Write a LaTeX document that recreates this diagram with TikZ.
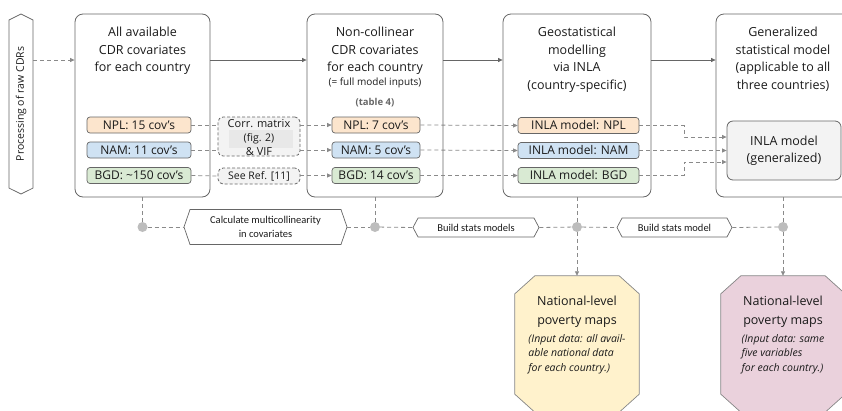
\documentclass[tikz,border=0pt]{standalone}
\usepackage{fontspec}
\setmainfont{Open Sans}
\newfontfamily\hexfont{Carlito}
\usetikzlibrary{arrows.meta,shapes.symbols,calc}

\definecolor{edge}{HTML}{666666}
\definecolor{dashc}{HTML}{8A8A8A}
\definecolor{nplc}{HTML}{FCE5CD}
\definecolor{namc}{HTML}{CFE2F3}
\definecolor{bgdc}{HTML}{D9EAD3}
\definecolor{lgray}{HTML}{F3F3F3}
\definecolor{mgray}{HTML}{E8E8E8}
\definecolor{dotc}{HTML}{BDBDBD}
\definecolor{yelc}{HTML}{FFF2CC}
\definecolor{pinkc}{HTML}{EAD1DC}
\definecolor{txt}{HTML}{1A1A1A}

\tikzset{
  bigbox/.style={draw=edge, line width=0.8pt, rounded corners=8pt, minimum height=183pt, inner sep=0pt},
  titletext/.style={align=center, font=\fontsize{12.5}{17.5}\selectfont, text=txt, anchor=north, inner sep=0pt},
  covbox/.style={draw=edge, line width=0.7pt, rounded corners=3pt, minimum height=16pt, inner sep=0pt, font=\fontsize{12}{14}\selectfont, text=txt},
  dashbox/.style={draw=edge, dash pattern=on 3pt off 2pt, line width=0.8pt, rounded corners=5pt, fill=lgray, inner sep=0pt},
  hexbox/.style={draw=edge, line width=0.7pt, signal, signal to=west and east, inner sep=0pt, align=center, font=\hexfont\fontsize{10.5}{14}\selectfont, text=txt},
  solidarrow/.style={draw=edge, line width=0.7pt, -{Triangle[length=4.5pt,width=4pt]}},
  dline/.style={draw=dashc, line width=0.8pt, dash pattern=on 4pt off 3pt},
  darrow/.style={dline, -{Triangle[length=4.5pt,width=4pt]}},
  dot/.style={circle, fill=dotc, minimum size=10pt, inner sep=0pt},
  octtext/.style={align=center, text=txt, inner sep=0pt}
}

\begin{document}
\begin{tikzpicture}[x=1pt,y=-1pt]
\useasboundingbox (0,0) rectangle (842,410);
\clip (0,0) rectangle (842,410);

% Processing shape
\node[draw=edge, line width=0.7pt, signal, signal to=west and east, signal pointer angle=127,
      rotate=90, minimum width=180pt, minimum height=24pt, inner sep=0pt,
      font=\fontsize{10.5}{12}\selectfont, text=txt] (proc) at (21,104) {Processing of raw CDRs};

% Big boxes
\node[bigbox, minimum width=135pt] (box1) at (142.5,105.5) {};
\node[bigbox, minimum width=136pt] (box2) at (375,105.5) {};
\node[bigbox, minimum width=148pt] (box3) at (577,105.5) {};
\node[bigbox, minimum width=134pt] (box4) at (783,105.5) {};

\node[titletext] (t1) at (142.5,27) {All available\\CDR covariates\\for each country};
\node[titletext] (t2) at (375,27) {Non-collinear\\CDR covariates\\for each country};
\node[inner sep=0pt, font=\fontsize{10}{11}\selectfont, text=txt] (t2b) at (375,83) {(= full model inputs)};
\node[inner sep=0pt, font=\bfseries\fontsize{9.5}{10}\selectfont, text=black!60] (t2c) at (375,103) {(table 4)};
\node[titletext] (t3) at (577,27) {Geostatistical\\modelling\\via INLA\\(country-specific)};
\node[titletext] (t4) at (783,27) {Generalized\\statistical model\\(applicable to all\\three countries)};

% Column 1 boxes
\node[covbox, fill=nplc, minimum width=104pt] (c1npl) at (139,125) {NPL: 15 cov's};
\node[covbox, fill=namc, minimum width=104pt] (c1nam) at (139,150) {NAM: 11 cov's};
\node[covbox, fill=bgdc, minimum width=104pt] (c1bgd) at (139,175.5) {BGD: \textasciitilde150 cov's};

% Dashed method boxes
\node[dashbox, minimum width=82pt, minimum height=39pt] (corr) at (259,136.5) {};
\node[fill=mgray, minimum width=64pt, minimum height=18pt, inner sep=0pt] (corrbg) at (261,139) {};
\node[inner sep=0pt, font=\fontsize{11}{13}\selectfont, text=txt] (corrA) at (259,123.5) {Corr. matrix};
\node[inner sep=0pt, font=\fontsize{10.5}{12}\selectfont, text=txt] (corrB) at (259,138.5) {(fig. 2)};
\node[inner sep=0pt, font=\fontsize{11}{13}\selectfont, text=txt] (corrC) at (259,151.5) {\& VIF};
\node[dashbox, minimum width=82pt, minimum height=16pt, font=\fontsize{10.5}{12}\selectfont, text=txt] (seeref) at (259,176) {See Ref. [11]};

% Column 2 boxes
\node[covbox, fill=nplc, minimum width=88pt] (c2npl) at (376,125) {NPL: 7 cov's};
\node[covbox, fill=namc, minimum width=88pt] (c2nam) at (376,150) {NAM: 5 cov's};
\node[covbox, fill=bgdc, minimum width=88pt] (c2bgd) at (376,175.5) {BGD: 14 cov's};

% Column 3 boxes
\node[covbox, fill=nplc, minimum width=121pt] (c3npl) at (578.5,125.5) {INLA model: NPL};
\node[covbox, fill=namc, minimum width=121pt] (c3nam) at (578.5,150.5) {INLA model: NAM};
\node[covbox, fill=bgdc, minimum width=121pt] (c3bgd) at (578.5,175.5) {INLA model: BGD};

% Generalized INLA
\node[draw=edge, line width=0.8pt, rounded corners=6pt, fill=lgray, minimum width=114pt, minimum height=59pt,
      align=center, inner sep=0pt, font=\fontsize{12.5}{17.5}\selectfont, text=txt] (gen) at (784,150.5) {INLA model\\(generalized)};

% Top solid arrows
\coordinate (r60) at (0,60);
\draw[solidarrow] (box1.east |- r60) -- (box2.west |- r60);
\draw[solidarrow] (box2.east |- r60) -- (box3.west |- r60);
\draw[solidarrow] (box3.east |- r60) -- (box4.west |- r60);
\draw[darrow] (proc.south |- r60) -- (box1.west |- r60);

% Dashed connections
\draw[dline] (c1npl.east) -- (corr.west |- c1npl);
\draw[dline] (c1nam.east) -- (corr.west |- c1nam);
\draw[dline] (c1bgd.east) -- (seeref.west);
\draw[darrow] (corr.east |- c2npl) -- (c2npl.west);
\draw[darrow] (corr.east |- c2nam) -- (c2nam.west);
\draw[darrow] (seeref.east |- c2bgd) -- (c2bgd.west);
\draw[darrow] (c2npl.east) -- (c3npl.west);
\draw[darrow] (c2nam.east) -- (c3nam.west);
\draw[darrow] (c2bgd.east) -- (c3bgd.west);

\coordinate (elb) at (684,0);
\coordinate (g1) at (0,137);
\coordinate (g3) at (0,162);
\draw[darrow] (c3npl.east) -- (elb |- c3npl) -- (elb |- g1) -- (gen.west |- g1);
\draw[darrow] (c3nam.east) -- (gen.west |- c3nam);
\draw[darrow] (c3bgd.east) -- (elb |- c3bgd) -- (elb |- g3) -- (gen.west |- g3);

% Bottom process row
\node[dot] (d1) at (142.5,227) {};
\node[dot] (d2) at (375,227) {};
\node[dot] (d3) at (577,227) {};
\node[dot] (d4) at (783,227) {};

\node[hexbox, signal pointer angle=142, minimum width=163pt, minimum height=35pt] (h1) at (265.5,227) {Calculate multicollinearity\\in covariates};
\node[hexbox, signal pointer angle=124, minimum width=126pt, minimum height=19pt] (h2) at (476,227.5) {Build stats models};
\node[hexbox, signal pointer angle=124, minimum width=115pt, minimum height=19pt] (h3) at (674.5,227.5) {Build stats model};

\draw[dline] (box1.south) -- (d1);
\draw[dline] (box2.south) -- (d2);
\draw[dline] (box3.south) -- (d3);
\draw[dline] (box4.south) -- (d4);
\draw[dline] (d1) -- (h1.west);
\draw[dline] (h1.east) -- (d2);
\draw[dline] (d2) -- (h2.west);
\draw[dline] (h2.east) -- (d3);
\draw[dline] (d3) -- (h3.west);
\draw[dline] (h3.east) -- (d4);

% Octagons
\node[minimum width=124pt, minimum height=136pt, inner sep=0pt] (oct1) at (577,344) {};
\node[minimum width=124pt, minimum height=136pt, inner sep=0pt] (oct2) at (783,344) {};
\foreach \o/\c in {oct1/yelc, oct2/pinkc}{
  \draw[draw=edge!80, line width=0.7pt, fill=\c]
    ($(\o.north west)+(20,0)$) -- ($(\o.north east)+(-20,0)$) -- ($(\o.north east)+(0,18)$) --
    ($(\o.south east)+(0,-18)$) -- ($(\o.south east)+(-20,0)$) -- ($(\o.south west)+(20,0)$) --
    ($(\o.south west)+(0,-18)$) -- ($(\o.north west)+(0,18)$) -- cycle;
}
\draw[darrow] (d3) -- (oct1.north);
\draw[darrow] (d4) -- (oct2.north);

\node[octtext, font=\fontsize{12.5}{19}\selectfont, anchor=north] (o1a) at (577,296) {National-level\\poverty maps};
\node[octtext, align=left, font=\itshape\fontsize{10.5}{14.5}\selectfont, anchor=north] (o1b) at (577,334) {(Input data: all avail-\\able national data\\for each country.)};
\node[octtext, font=\fontsize{12.5}{19}\selectfont, anchor=north] (o2a) at (783,296) {National-level\\poverty maps};
\node[octtext, align=left, font=\itshape\fontsize{10.5}{14.5}\selectfont, anchor=north] (o2b) at (783,334) {(Input data: same\\five variables\\for each country.)};
\end{tikzpicture}
\end{document}
